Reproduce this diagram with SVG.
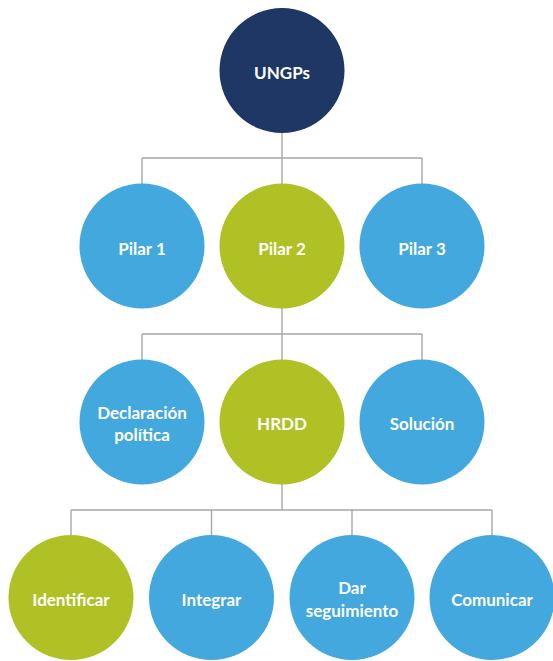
<svg xmlns="http://www.w3.org/2000/svg" width="553" height="661" viewBox="0 0 553 661">
<style>
.c{stroke:none}
.navy{fill:#1e3765}
.blue{fill:#42a8dd}
.green{fill:#afc124}
.t{font-family:Lato,"Open Sans",sans-serif;font-weight:bold;font-size:17px;fill:#ffffff;text-anchor:middle}
.ln{stroke:#a8a8a8;stroke-width:1.4;fill:none}
</style>
<rect width="553" height="661" fill="#ffffff"/>
<g id="connectors">
<path class="ln" d="M282 133V158M142 158H422M142 158V184M282 158V184M422 158V184"/>
<path class="ln" d="M282 308V334M142 334H422M142 334V360M282 334V360M422 334V360"/>
<path class="ln" d="M282 484V510M71 510H492M71 510V535M211.5 510V535M352 510V535M492 510V535"/>
</g>
<g id="ungps"><circle class="c navy" cx="282" cy="70.5" r="62.5"/><text class="t" x="282" y="79">UNGPs</text></g>
<g id="pilar1"><circle class="c blue" cx="142" cy="246" r="62.5"/><text class="t" x="142" y="255">Pilar 1</text></g>
<g id="pilar2"><circle class="c green" cx="282" cy="246" r="62.5"/><text class="t" x="282" y="255">Pilar 2</text></g>
<g id="pilar3"><circle class="c blue" cx="422" cy="246" r="62.5"/><text class="t" x="422" y="255">Pilar 3</text></g>
<g id="declaracion"><circle class="c blue" cx="142" cy="422" r="62.5"/><text class="t" x="142" y="419">Declaración</text><text class="t" x="142" y="441">política</text></g>
<g id="hrdd"><circle class="c green" cx="282" cy="422" r="62.5"/><text class="t" x="282" y="430">HRDD</text></g>
<g id="solucion"><circle class="c blue" cx="422" cy="422" r="62.5"/><text class="t" x="422" y="430">Solución</text></g>
<g id="identificar"><circle class="c green" cx="71" cy="597.5" r="62.5"/><text class="t" x="71" y="606">Identificar</text></g>
<g id="integrar"><circle class="c blue" cx="211.5" cy="597.5" r="62.5"/><text class="t" x="211.5" y="606">Integrar</text></g>
<g id="seguimiento"><circle class="c blue" cx="352" cy="597.5" r="62.5"/><text class="t" x="352" y="594">Dar</text><text class="t" x="352" y="617">seguimiento</text></g>
<g id="comunicar"><circle class="c blue" cx="492" cy="597.5" r="62.5"/><text class="t" x="492" y="606">Comunicar</text></g>
</svg>
